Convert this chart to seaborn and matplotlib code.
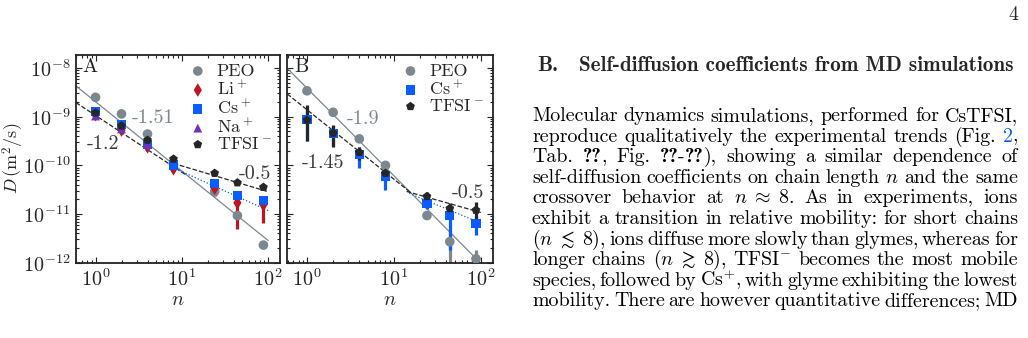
import numpy as np
import pandas as pd
import matplotlib
matplotlib.use("Agg")
import matplotlib.pyplot as plt
import seaborn as sns

# chain lengths
n = [1, 2, 4, 8, 24, 44, 88]

# panel A (experiment)
peo_a = [2.5e-9, 1.14e-9, 4.4e-10, 1.05e-10, 2.9e-11, 9.3e-12, 2.3e-12]
li_a = [1.1e-9, 5.3e-10, 2.4e-10, 8.5e-11, 3.4e-11, 1.7e-11, 1.55e-11]
li_a_lo = [1.1e-9, 5.3e-10, 2.4e-10, 8.5e-11, 2.3e-11, 4.9e-12, 6.5e-12]
li_a_hi = [1.1e-9, 5.3e-10, 2.4e-10, 8.5e-11, 3.9e-11, 2.1e-11, 2.3e-11]
cs_a = [1.27e-9, 6.8e-10, 2.7e-10, 1.02e-10, 4.3e-11, 2.4e-11, 1.87e-11]
na_n = [1, 2, 4]
na_a = [1.03e-9, 5.6e-10, 2.7e-10]
tfsi_a = [1.2e-9, 6.5e-10, 3.3e-10, 1.35e-10, 6.9e-11, 4.4e-11, 3.55e-11]

# panel B (MD)
peo_b = [3.4e-9, 1.23e-9, 3.5e-10, 1.0e-10, 9.3e-12, 2.7e-12, 1.2e-12]
peo_b_lo = [3.4e-9, 1.23e-9, 3.5e-10, 1.0e-10, 8.3e-12, 1e-13, 1e-13]
peo_b_hi = [3.4e-9, 1.23e-9, 3.5e-10, 1.0e-10, 1.05e-11, 4.1e-12, 1.8e-12]
cs_b = [8.8e-10, 4.55e-10, 1.7e-10, 6.0e-11, 1.66e-11, 9.3e-12, 6.3e-12]
cs_b_lo = [3.2e-10, 2.6e-10, 8.7e-11, 3.1e-11, 1.25e-11, 1.8e-12, 3.7e-12]
cs_b_hi = [1.42e-9, 6.4e-10, 2.4e-10, 8.0e-11, 2.1e-11, 1.4e-11, 8.9e-12]
tfsi_b = [8.5e-10, 4.6e-10, 1.85e-10, 6.9e-11, 2.3e-11, 1.3e-11, 1.2e-11]
tfsi_b_lo = [3.1e-10, 2.4e-10, 1.28e-10, 5.4e-11, 1.66e-11, 1.05e-11, 6.9e-12]
tfsi_b_hi = [1.74e-9, 6.7e-10, 2.4e-10, 8.7e-11, 2.9e-11, 1.66e-11, 1.78e-11]

# power-law guides: (prefactor, exponent, n_min, n_max)
fits_a = {"peo": (2.03e-9, -1.426, 0.594, 100), "short": (1.06e-9, -1.166, 0.594, 11),
          "long": (3.3e-10, -0.53, 8, 100), "cs": (4.7e-10, -0.80, 8, 100)}
fits_b = {"peo": (3.86e-9, -1.80, 0.594, 100), "short": (1.39e-9, -1.426, 0.594, 16),
          "long": (1.11e-10, -0.507, 14, 100), "cs": (1.97e-10, -0.74, 15, 100)}
labels_a = [("-1.51", 4.6, 9.4e-10, "peo"), ("-1.2", 1.22, 2.7e-10, "dark"), ("-0.5", 70, 6.6e-11, "dark")]
labels_b = [("-1.9", 4.47, 8.9e-10, "peo"), ("-1.45", 1.54, 1.1e-10, "dark"), ("-0.5", 71.8, 2.7e-11, "dark")]

GRAY = "#7d878f"
RED = "#c0141f"
BLUE = "#0a5cff"
PURPLE = "#7430b8"
BLACK = "#262626"
DARK = "#3a3a3a"

sns.set_style("ticks")
plt.rcParams["font.family"] = ["cmr10"]
plt.rcParams["mathtext.fontset"] = "cm"
plt.rcParams["axes.formatter.use_mathtext"] = True
plt.rcParams["axes.unicode_minus"] = False

W, H = 1028, 338
fig = plt.figure(figsize=(W / 100, H / 100), dpi=100)
axA = fig.add_axes([76 / W, 1 - 262.7 / H, 204 / W, 207.7 / H])
axB = fig.add_axes([287.3 / W, 1 - 262.7 / H, 205.4 / W, 207.7 / H])


def guide(ax, fit, color, ls):
    pref, ex, lo, hi = fit
    xs = np.geomspace(lo, hi, 60)
    sns.lineplot(x=xs, y=pref * xs ** ex, ax=ax, color=color, lw=0.9, ls=ls, zorder=1)


def bars(ax, y, lo, hi, color):
    y = np.array(y)
    ax.errorbar(n, y, yerr=[y - np.array(lo), np.array(hi) - y], fmt="none",
                ecolor=color, elinewidth=2.3, capsize=0, zorder=2)


def dots(ax, x, y, marker, color, s, label):
    sns.scatterplot(x=x, y=y, ax=ax, marker=marker, color=color, s=s,
                    edgecolor="none", label=label, zorder=3)


# panel A
guide(axA, fits_a["peo"], GRAY, "-")
guide(axA, fits_a["short"], BLACK, "--")
guide(axA, fits_a["long"], BLACK, "--")
guide(axA, fits_a["cs"], BLUE, ":")
bars(axA, li_a, li_a_lo, li_a_hi, RED)
dots(axA, n, peo_a, "o", GRAY, 48, "PEO")
dots(axA, n, li_a, "d", RED, 48, r"Li$^+$")
dots(axA, n, cs_a, "s", BLUE, 44, r"Cs$^+$")
dots(axA, na_n, na_a, "^", PURPLE, 40, r"Na$^+$")
dots(axA, n, tfsi_a, "p", BLACK, 44, r"TFSI$^-$")

# panel B
guide(axB, fits_b["peo"], GRAY, "-")
guide(axB, fits_b["short"], BLACK, "--")
guide(axB, fits_b["long"], BLACK, "--")
guide(axB, fits_b["cs"], BLUE, ":")
bars(axB, peo_b, peo_b_lo, peo_b_hi, GRAY)
bars(axB, cs_b, cs_b_lo, cs_b_hi, BLUE)
bars(axB, tfsi_b, tfsi_b_lo, tfsi_b_hi, BLACK)
dots(axB, n, peo_b, "o", GRAY, 48, "PEO")
dots(axB, n, cs_b, "s", BLUE, 44, r"Cs$^+$")
dots(axB, n, tfsi_b, "p", BLACK, 44, r"TFSI$^-$")

FS = 14.5
for ax, labs, tag in [(axA, labels_a, "A"), (axB, labels_b, "B")]:
    ax.set_xscale("log")
    ax.set_yscale("log")
    ax.set_xlim(0.594, 137)
    ax.set_ylim(1e-12, 1.85e-8)
    ax.set_xlabel(r"$n$", fontsize=FS, labelpad=1)
    ax.tick_params(which="both", direction="in", top=True, right=True,
                   labelsize=FS, width=0.8, color="#222222", pad=4)
    ax.tick_params(which="major", length=4)
    ax.tick_params(which="minor", length=2)
    for sp in ax.spines.values():
        sp.set_linewidth(1.3)
        sp.set_color("#222222")
    for txt, x, y, c in labs:
        ax.text(x, y, txt, color=GRAY if c == "peo" else DARK, fontsize=FS,
                ha="center", va="center")
    ax.text(0.068, 0.94, tag, transform=ax.transAxes, fontsize=FS,
            ha="center", va="center", color="#222222")
    ax.legend(loc="upper right", frameon=False, fontsize=13, handlelength=0.7,
              handletextpad=0.7, labelspacing=0.02, borderaxespad=0.15, borderpad=0.3)

axA.set_ylabel(r"$D\,(\mathrm{m}^2/\mathrm{s})$", fontsize=13)
axA.yaxis.set_label_coords(-0.245, 0.5)
axB.set_ylabel("")
axB.tick_params(labelleft=False)

# page text on the right
renderer = fig.canvas.get_renderer()
RM = "cmr10"
BF = "cmb10"
body = [
    "Molecular dynamics simulations, performed for CsTFSI,".split(),
    "reproduce qualitatively the experimental trends (Fig.".split() + [[("2", BLUE, RM), (",", "k", RM)]],
    ["Tab.", [("??", "k", BF), (",", "k", RM)], "Fig.",
     [("??", "k", BF), ("-", "k", RM), ("??", "k", BF), ("),", "k", RM)],
     "showing", "a", "similar", "dependence", "of"],
    "self-diffusion coefficients on chain length $n$ and the same".split(),
    ["crossover", "behavior", "at", r"$n\;\approx\;8$.", "As", "in", "experiments,", "ions"],
    "exhibit a transition in relative mobility: for short chains".split(),
    [r"($n\;\lesssim\;8$),", "ions", "diffuse", "more", "slowly", "than", "glymes,", "whereas", "for"],
    ["longer", "chains", r"($n\;\gtrsim\;8$),", r"TFSI$^{-}$", "becomes", "the", "most", "mobile"],
    ["species,", "followed", "by", r"Cs$^{+}$,", "with", "glyme", "exhibiting", "the", "lowest"],
    "mobility. There are however quantitative differences; MD".split(),
]
col_left, col_right = 532, 1018
base0, step = 121, 20.6


def parts_of(word):
    return [(word, "k", RM)] if isinstance(word, str) else word


def word_width(word, fs):
    w = 0
    for txt, c, fam in parts_of(word):
        t = fig.text(0, 0, txt, fontsize=fs, family=fam)
        w += t.get_window_extent(renderer).width
        t.remove()
    return w


fs0 = 12
nat = []
for line in body:
    ws = sum(word_width(w, fs0) for w in line)
    nat.append(ws + (len(line) - 1) * 0.30 * fs0 * 100 / 72)
fs = fs0 * (col_right - col_left) / np.mean(nat)

for i, line in enumerate(body):
    widths = [word_width(w, fs) for w in line]
    gap = ((col_right - col_left) - sum(widths)) / (len(line) - 1)
    x = col_left
    yb = base0 + i * step
    for w, wd in zip(line, widths):
        xx = x
        for txt, c, fam in parts_of(w):
            t = fig.text(xx / W, 1 - yb / H, txt, fontsize=fs, family=fam,
                         color=c, ha="left", va="baseline")
            xx += t.get_window_extent(renderer).width
        x += wd + gap

# section heading and page number
head = "Self-diffusion coefficients from MD simulations"
t = fig.text(0, 0, head, fontsize=12, family=BF)
hw = t.get_window_extent(renderer).width
t.remove()
hfs = 12 * (1013 - 579) / hw
fig.text(537 / W, 1 - 71 / H, "B.", fontsize=hfs, family=BF, ha="left", va="baseline")
fig.text(579 / W, 1 - 71 / H, head, fontsize=hfs, family=BF, ha="left", va="baseline")
fig.text(1018 / W, 1 - 20 / H, "4", fontsize=fs, family=RM, ha="right", va="baseline")

fig.savefig("out.png", dpi=100)
